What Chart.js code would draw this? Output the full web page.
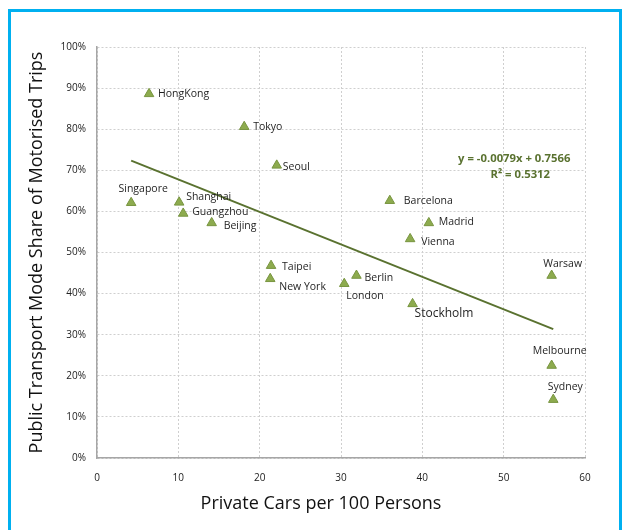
<!DOCTYPE html>
<html><head><meta charset="utf-8">
<script src="https://cdn.jsdelivr.net/npm/chart.js@4/dist/chart.umd.min.js"></script>
<style>html,body{margin:0;padding:0;background:#fff}canvas{display:block}</style>
</head><body>
<canvas id="c" width="626" height="530" style="width:626px;height:530px"></canvas>
<script>
// ---- data ----
const cities = ['HongKong','Tokyo','Seoul','Singapore','Shanghai','Guangzhou','Beijing','Taipei','New York','London','Berlin','Stockholm','Barcelona','Madrid','Vienna','Warsaw','Melbourne','Sydney'];
const carsPer100 = [6.4,18.1,22.1,4.2,10.1,10.6,14.1,21.4,21.3,30.4,31.9,38.8,36.0,40.8,38.5,55.9,55.9,56.1];
const ptShare = [0.886,0.806,0.712,0.621,0.622,0.595,0.572,0.468,0.436,0.424,0.444,0.375,0.626,0.572,0.533,0.444,0.225,0.142];
const trendSlope = -0.0079;
const trendIntercept = 0.7566;
const rSquared = 0.5312;
const xTickValues = [0,10,20,30,40,50,60];
const yTickValues = [0,0.1,0.2,0.3,0.4,0.5,0.6,0.7,0.8,0.9,1.0];
const xTitle = 'Private Cars per 100 Persons';
const yTitle = 'Public Transport Mode Share of Motorised Trips';

// ---- label placement (pixel offsets from each point) ----
const labelOffsets = [
  {dx:9,dy:0,align:'left'},   // HongKong
  {dx:9,dy:0,align:'left'},   // Tokyo
  {dx:6,dy:2,align:'left'},   // Seoul
  {dx:12,dy:-14,align:'center'}, // Singapore
  {dx:7,dy:-5,align:'left'},  // Shanghai
  {dx:9,dy:-1,align:'left'},  // Guangzhou
  {dx:12,dy:3,align:'left'},  // Beijing
  {dx:11,dy:1,align:'left'},  // Taipei
  {dx:9,dy:8,align:'left'},   // New York
  {dx:2,dy:12,align:'left'},  // London
  {dx:8,dy:2,align:'left'},   // Berlin
  {dx:2,dy:10,align:'left',size:12}, // Stockholm
  {dx:14,dy:0,align:'left'},  // Barcelona
  {dx:10,dy:-1,align:'left'}, // Madrid
  {dx:11,dy:3,align:'left'},  // Vienna
  {dx:11,dy:-12,align:'center'}, // Warsaw
  {dx:8,dy:-15,align:'center'},  // Melbourne
  {dx:12,dy:-13,align:'center'}  // Sydney
];
const eqPos = {x:51.3, y:0.727, y2:0.690};

const points = carsPer100.map((x,i)=>({x:x, y:ptShare[i]}));
const xMin = Math.min(...carsPer100), xMax = Math.max(...carsPer100);
const trend = [xMin, xMax].map(x=>({x:x, y:trendSlope*x+trendIntercept}));

const FONT = '"Open Sans", "DejaVu Sans", sans-serif';

const framePlugin = {
  id:'frame',
  beforeDraw(chart){
    const ctx=chart.ctx;
    ctx.save();
    ctx.fillStyle='#ffffff';
    ctx.fillRect(0,0,chart.width,chart.height);
    ctx.strokeStyle='#00B0F0';
    ctx.lineWidth=3;
    ctx.strokeRect(9.5,10.5,611,560);
    ctx.restore();
  }
};

const labelPlugin = {
  id:'cityLabels',
  afterDatasetsDraw(chart){
    const ctx=chart.ctx;
    const meta=chart.getDatasetMeta(0);
    ctx.save();
    ctx.textBaseline='middle';
    meta.data.forEach((pt,i)=>{
      const o=labelOffsets[i];
      ctx.font=(o.size||10.5)+'px '+FONT;
      ctx.fillStyle='#1f1f1f';
      ctx.textAlign=o.align;
      ctx.fillText(cities[i], pt.x+o.dx, pt.y+o.dy);
    });
    // trendline equation
    const xs=chart.scales.x, ys=chart.scales.y;
    const ex=xs.getPixelForValue(eqPos.x);
    ctx.font='bold 11.3px '+FONT;
    ctx.fillStyle='#5A7230';
    ctx.textAlign='center';
    const sign = trendIntercept>=0?'+':'-';
    ctx.fillText('y = '+trendSlope.toFixed(4)+'x '+sign+' '+Math.abs(trendIntercept).toFixed(4), ex, ys.getPixelForValue(eqPos.y));
    ctx.fillText('R\u00B2 = '+rSquared.toFixed(4), ex+6, ys.getPixelForValue(eqPos.y2));
    // x-axis title
    const ca=chart.chartArea;
    ctx.font='18px '+FONT;
    ctx.fillStyle='#111';
    ctx.fillText(xTitle, (ca.left+ca.right)/2-20, 504);
    ctx.restore();
  }
};

new Chart(document.getElementById('c'), {
  type:'scatter',
  data:{
    datasets:[
      {
        label:'Cities',
        data:points,
        pointStyle:'triangle',
        pointRadius:5.5,
        pointHoverRadius:5.5,
        backgroundColor:'#8DAB4E',
        borderColor:'#789540',
        borderWidth:1
      },
      {
        type:'line',
        label:'Trend',
        data:trend,
        borderColor:'#5A7230',
        borderWidth:2,
        pointRadius:0,
        fill:false,
        showLine:true
      }
    ]
  },
  options:{
    responsive:false,
    animation:false,
    events:[],
    layout:{padding:{top:47,right:41,left:0,bottom:0}},
    plugins:{legend:{display:false},tooltip:{enabled:false}},
    scales:{
      x:{
        type:'linear', min:0, max:60,
        afterBuildTicks(s){ s.ticks = xTickValues.map(v=>({value:v})); },
        afterFit(s){ s.height = 72; },
        grid:{color:'#CFCFCF', drawTicks:false, lineWidth:1},
        border:{color:'#A6A6A6', width:1.5, dash:[2,2]},
        ticks:{padding:14, color:'#222', font:{family:FONT, size:10}}
      },
      y:{
        type:'linear', min:0, max:1,
        afterBuildTicks(s){ s.ticks = yTickValues.map(v=>({value:v})); },
        afterFit(s){ s.width = 97; },
        grid:{color:'#CFCFCF', drawTicks:false, lineWidth:1},
        border:{color:'#A6A6A6', width:1.5, dash:[2,2]},
        ticks:{padding:11, color:'#222', font:{family:FONT, size:10},
          callback:v=>Math.round(v*100)+'%'},
        title:{display:true, text:yTitle, color:'#111', font:{family:FONT, size:18}, padding:{top:26,bottom:0}}
      }
    }
  },
  plugins:[framePlugin, labelPlugin]
});
</script>
</body></html>
